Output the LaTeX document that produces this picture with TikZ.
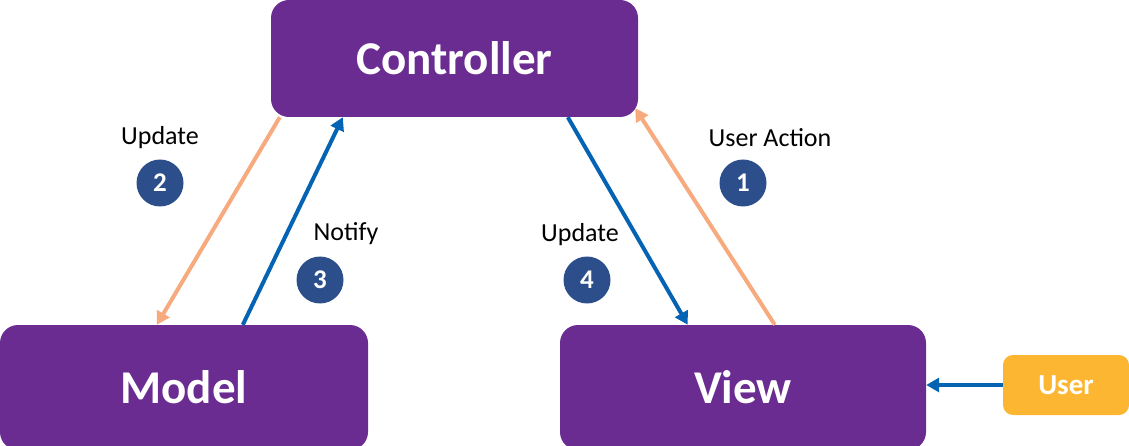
\documentclass[tikz,border=0pt]{standalone}
\usepackage{fontspec}
\setmainfont{Carlito}
\usetikzlibrary{arrows.meta,calc}
\definecolor{mvcpurple}{HTML}{6A2C91}
\definecolor{mvcorange}{HTML}{F7AA7E}
\definecolor{mvcblue}{HTML}{0563B4}
\definecolor{mvccircle}{HTML}{2C4F8C}
\definecolor{mvcuser}{HTML}{FDB631}
\tikzset{
  bigbox/.style={rectangle, fill=mvcpurple, rounded corners=18pt, text=white, inner sep=0pt,
    font=\fontsize{47}{50}\selectfont\bfseries},
  userbox/.style={rectangle, fill=mvcuser, rounded corners=10pt, text=white, inner sep=0pt,
    minimum width=126pt, minimum height=60pt, font=\fontsize{29}{32}\selectfont\bfseries},
  numcirc/.style={circle, fill=mvccircle, text=white, inner sep=0pt, minimum size=47pt,
    font=\fontsize{27}{28}\selectfont\bfseries},
  lbl/.style={text=black, inner sep=0pt, font=\fontsize{26}{28}\selectfont},
  flowo/.style={draw=mvcorange, line width=4pt, -{Triangle[length=13pt,width=14pt]}},
  flowb/.style={draw=mvcblue, line width=4pt, -{Triangle[length=13pt,width=14pt]}},
}
\begin{document}
\begin{tikzpicture}[x=1pt,y=-1pt]
\useasboundingbox (0,0) rectangle (1129,446);
\node[bigbox, minimum width=367pt, minimum height=117pt] (ctrl) at (454.5,58.5) {Controller};
\node[bigbox, minimum width=368pt, minimum height=125pt] (model) at (184,387.5) {Model};
\node[bigbox, minimum width=366pt, minimum height=125pt] (view) at (743,387.5) {View};
\node[userbox] (user) at (1066,385) {User};

\node[numcirc] (c2) at (160,183) {2};
\node[numcirc] (c3) at (320,280) {3};
\node[numcirc] (c1) at (743,183) {1};
\node[numcirc] (c4) at (587,280) {4};

\node[lbl] (l2) at (160,138) {Update};
\node[lbl] (l3) at (346,234) {Notify};
\node[lbl] (l1) at (770,138) {User Action};
\node[lbl] (l4) at (580,235) {Update};

\path[flowo] ($(ctrl.south west)+(9,0)$) -- ($(model.north west)+(157,0)$);
\path[flowb] ($(model.north west)+(243,0)$) -- ($(ctrl.south west)+(72,0)$);
\path[flowb] ($(ctrl.south west)+(297,0)$) -- ($(view.north west)+(128,0)$);
\path[flowo] ($(view.north west)+(215,0)$) -- ($(ctrl.south east)+(-3,-9)$);
\path[flowb] (user.west) -- (user.west -| view.east);
\end{tikzpicture}
\end{document}
